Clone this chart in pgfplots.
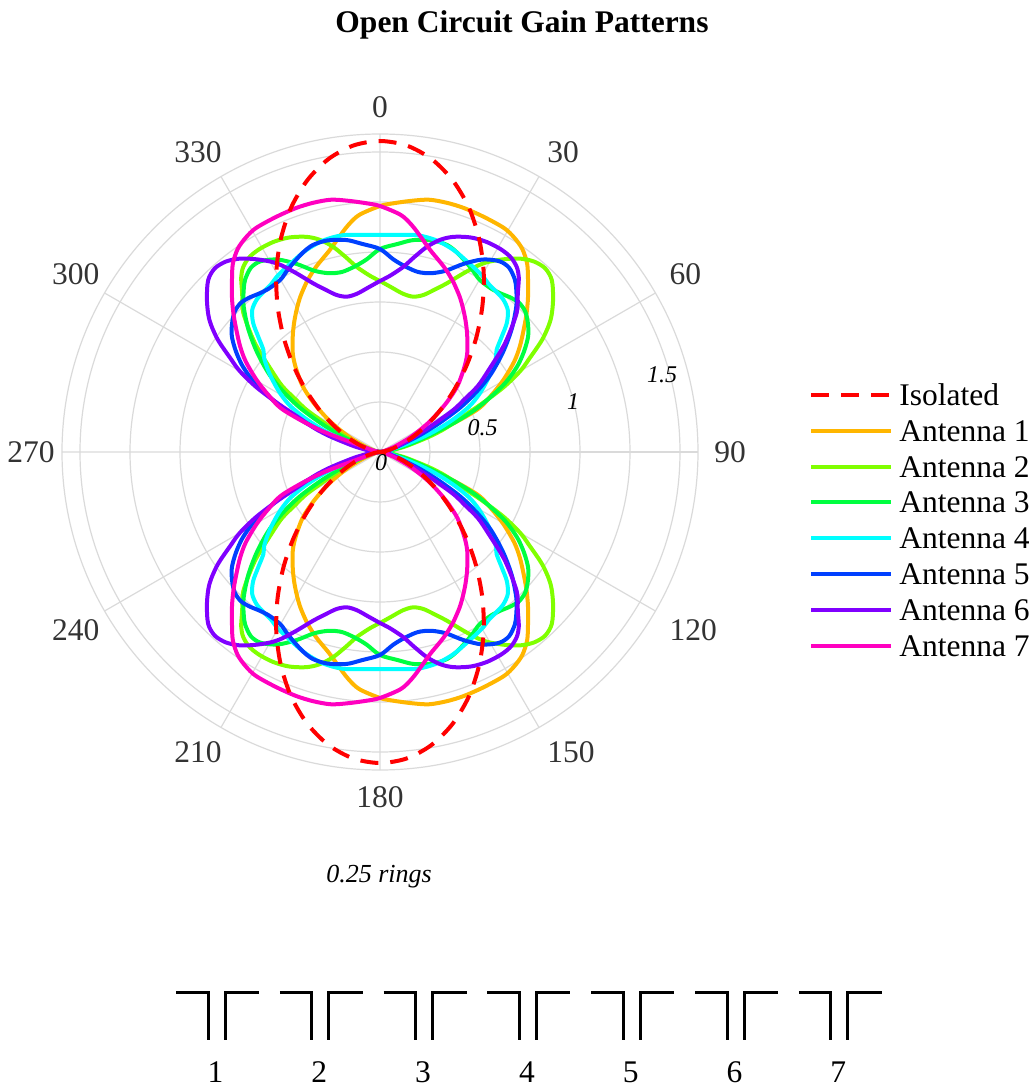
\documentclass[border=0pt]{standalone}
\usepackage{pgfplots}
\pgfplotsset{compat=1.18}
\usepgfplotslibrary{polar}
\usepackage{pgfplotstable}
\usepackage{fontspec}
\setmainfont{Liberation Serif}

\newlength{\px}
\setlength{\px}{0.5pt}

\definecolor{gridgray}{RGB}{218,218,218}
\definecolor{labelgray}{RGB}{51,51,51}
\definecolor{isored}{RGB}{255,0,0}
\definecolor{antA}{RGB}{255,182,0}
\definecolor{antB}{RGB}{128,255,0}
\definecolor{antC}{RGB}{0,255,64}
\definecolor{antD}{RGB}{0,255,255}
\definecolor{antE}{RGB}{0,64,255}
\definecolor{antF}{RGB}{128,0,255}
\definecolor{antG}{RGB}{255,0,192}

\newcommand{\bigfont}{\fontsize{15.75pt}{18pt}\selectfont}
\newcommand{\smallfont}{\fontsize{12pt}{14pt}\selectfont}

% Gain patterns: a = polar angle in degrees, counter-clockwise from the
% 90 spoke (so a = 90 is the 0 direction), r = linear gain.
\pgfplotstableread{
a r
0 0
5 0.007
10 0.029
15 0.066
20 0.119
25 0.187
30 0.271
35 0.372
40 0.485
45 0.613
50 0.750
55 0.893
60 1.037
65 1.174
70 1.300
75 1.406
80 1.487
85 1.538
90 1.555
95 1.538
100 1.487
105 1.406
110 1.300
115 1.174
120 1.037
125 0.893
130 0.750
135 0.613
140 0.485
145 0.372
150 0.271
155 0.187
160 0.119
165 0.066
170 0.029
175 0.007
180 0
185 0.007
190 0.029
195 0.066
200 0.119
205 0.187
210 0.271
215 0.372
220 0.485
225 0.613
230 0.750
235 0.893
240 1.037
245 1.174
250 1.300
255 1.406
260 1.487
265 1.538
270 1.555
275 1.538
280 1.487
285 1.406
290 1.300
295 1.174
300 1.037
305 0.893
310 0.750
315 0.613
320 0.485
325 0.372
330 0.271
335 0.187
340 0.119
345 0.066
350 0.029
355 0.007
360 0
}\isolated

\pgfplotstableread{
a r
0 0
10 0.02
15 0.05
17.6 0.088
20.1 0.32
23.5 0.527
27 0.625
30.3 0.715
34 0.81
37 0.875
40 0.935
43 1.0
46 1.065
49.3 1.135
52 1.195
55 1.24
58 1.265
61 1.28
66 1.285
71 1.29
75 1.29
79 1.285
83 1.265
87 1.245
90 1.23
95 1.19
98 1.145
101 1.09
104 1.04
109 0.98
113 0.93
117 0.875
120 0.83
123 0.785
126 0.74
129 0.695
132 0.65
135 0.595
139.5 0.51
143 0.425
146 0.35
149 0.28
152 0.21
155 0.15
160 0.075
165 0.03
170 0.01
180 0
190 0.01
195 0.03
200 0.075
205 0.15
208 0.21
211 0.28
214 0.35
217 0.425
220.5 0.51
225 0.595
228 0.65
231 0.695
234 0.74
237 0.785
240 0.83
243 0.875
247 0.93
251 0.98
256 1.04
259 1.09
262 1.145
265 1.19
270 1.23
273 1.245
277 1.265
281 1.285
285 1.29
289 1.29
294 1.285
299 1.28
302 1.265
305 1.24
308 1.195
310.7 1.135
314 1.065
317 1.0
320 0.935
323 0.875
326 0.81
329.7 0.715
333 0.625
336.5 0.527
339.9 0.32
342.4 0.088
345 0.05
350 0.02
360 0
}\antennaA

\pgfplotstableread{
a r
0 0
5 0.03
9 0.07
13 0.14
17.3 0.26
20 0.35
23.2 0.45
25.5 0.57
27.7 0.70
30 0.81
32 0.88
34.8 0.99
37.8 1.08
41.3 1.152
45 1.215
48 1.235
51 1.225
54 1.195
57 1.15
60 1.10
62.2 1.055
65 0.985
68.4 0.907
71.5 0.855
74.6 0.814
78 0.794
81.8 0.80
86 0.825
90 0.855
93 0.88
97 0.93
100 0.99
103 1.055
106 1.105
109 1.138
113 1.165
117 1.178
121 1.18
124 1.172
126.5 1.15
128.5 1.115
131 1.05
134.5 0.975
139 0.828
143 0.68
146 0.59
148 0.50
150 0.43
152 0.33
154 0.25
157 0.17
160 0.115
163 0.08
167 0.04
172 0.015
180 0
188 0.015
193 0.04
197 0.08
200 0.115
203 0.17
206 0.25
208 0.33
210 0.43
212 0.50
214 0.59
217 0.68
221 0.828
225.5 0.975
229 1.05
231.5 1.115
233.5 1.15
236 1.172
239 1.18
243 1.178
247 1.165
251 1.138
254 1.105
257 1.055
260 0.99
263 0.93
267 0.88
270 0.855
274 0.825
278.2 0.80
282 0.794
285.4 0.814
288.5 0.855
291.6 0.907
295 0.985
297.8 1.055
300 1.10
303 1.15
306 1.195
309 1.225
312 1.235
315 1.215
318.7 1.152
322.2 1.08
325.2 0.99
328 0.88
330 0.81
332.3 0.70
334.5 0.57
336.8 0.45
340 0.35
342.7 0.26
347 0.14
351 0.07
355 0.03
360 0
}\antennaB

\pgfplotstableread{
a r
0 0
6 0.03
11 0.08
15 0.16
18.5 0.26
21.5 0.40
24 0.52
26.5 0.62
29 0.72
32 0.81
35 0.88
38 0.94
41 0.98
44 1.01
47 1.02
50 1.01
53 0.995
56 0.988
60 0.995
63 1.02
66 1.045
69 1.07
72 1.088
76 1.09
81 1.073
85 1.045
90 1.015
94 0.965
98 0.935
102 0.92
106 0.93
110 0.965
114 1.03
118 1.09
122 1.125
125 1.125
128 1.095
130 1.06
133 1.0
137 0.9
141 0.79
145 0.675
148 0.57
151 0.46
154 0.33
157 0.22
160 0.13
164 0.07
170 0.025
180 0
190 0.025
196 0.07
200 0.13
203 0.22
206 0.33
209 0.46
212 0.57
215 0.675
219 0.79
223 0.9
227 1.0
230 1.06
232 1.095
235 1.125
238 1.125
242 1.09
246 1.03
250 0.965
254 0.93
258 0.92
262 0.935
266 0.965
270 1.015
275 1.045
279 1.073
284 1.09
288 1.088
291 1.07
294 1.045
297 1.02
300 0.995
304 0.988
307 0.995
310 1.01
313 1.02
316 1.01
319 0.98
322 0.94
325 0.88
328 0.81
331 0.72
333.5 0.62
336 0.52
338.5 0.40
341.5 0.26
345 0.16
349 0.08
354 0.03
360 0
}\antennaC

\pgfplotstableread{
a r
0 0
8 0.02
13 0.06
17 0.15
20.5 0.28
24 0.40
27 0.50
30 0.57
33 0.63
36 0.69
39 0.745
41.2 0.775
43.5 0.84
45.5 0.905
48 0.955
51 0.98
54 0.99
57 1.0
60 1.02
65 1.045
70 1.075
75 1.095
80 1.10
85 1.09
90 1.085
95 1.09
100 1.10
105 1.095
110 1.075
115 1.045
120 1.02
123 1.0
126 0.99
129 0.98
132 0.955
134.5 0.905
136.5 0.84
138.8 0.775
141 0.745
144 0.69
147 0.63
150 0.57
153 0.50
156 0.40
159.5 0.28
163 0.15
167 0.06
172 0.02
180 0
188 0.02
193 0.06
197 0.15
200.5 0.28
204 0.40
207 0.50
210 0.57
213 0.63
216 0.69
219 0.745
221.2 0.775
223.5 0.84
225.5 0.905
228 0.955
231 0.98
234 0.99
237 1.0
240 1.02
245 1.045
250 1.075
255 1.095
260 1.10
265 1.09
270 1.085
275 1.09
280 1.10
285 1.095
290 1.075
295 1.045
300 1.02
303 1.0
306 0.99
309 0.98
312 0.955
314.5 0.905
316.5 0.84
318.8 0.775
321 0.745
324 0.69
327 0.63
330 0.57
333 0.50
336 0.40
339.5 0.28
343 0.15
347 0.06
352 0.02
360 0
}\antennaD

\pgfplotstableread{
a r
0 0
10 0.025
16 0.07
20 0.13
23 0.22
26 0.33
29 0.46
32 0.57
35 0.675
39 0.79
43 0.9
47 1.0
50 1.06
52 1.095
55 1.125
58 1.125
62 1.09
66 1.03
70 0.965
74 0.93
78 0.92
82 0.935
86 0.965
90 1.015
95 1.045
99 1.073
104 1.09
108 1.088
111 1.07
114 1.045
117 1.02
120 0.995
124 0.988
127 0.995
130 1.01
133 1.02
136 1.01
139 0.98
142 0.94
145 0.88
148 0.81
151 0.72
153.5 0.62
156 0.52
158.5 0.40
161.5 0.26
165 0.16
169 0.08
174 0.03
180 0
186 0.03
191 0.08
195 0.16
198.5 0.26
201.5 0.40
204 0.52
206.5 0.62
209 0.72
212 0.81
215 0.88
218 0.94
221 0.98
224 1.01
227 1.02
230 1.01
233 0.995
236 0.988
240 0.995
243 1.02
246 1.045
249 1.07
252 1.088
256 1.09
261 1.073
265 1.045
270 1.015
274 0.965
278 0.935
282 0.92
286 0.93
290 0.965
294 1.03
298 1.09
302 1.125
305 1.125
308 1.095
310 1.06
313 1.0
317 0.9
321 0.79
325 0.675
328 0.57
331 0.46
334 0.33
337 0.22
340 0.13
344 0.07
350 0.025
360 0
}\antennaE

\pgfplotstableread{
a r
0 0
8 0.015
13 0.04
17 0.08
20 0.115
23 0.17
26 0.25
28 0.33
30 0.43
32 0.50
34 0.59
37 0.68
41 0.828
45.5 0.975
49 1.05
51.5 1.115
53.5 1.15
56 1.172
59 1.18
63 1.178
67 1.165
71 1.138
74 1.105
77 1.055
80 0.99
83 0.93
87 0.88
90 0.855
94 0.825
98.2 0.80
102 0.794
105.4 0.814
108.5 0.855
111.6 0.907
115 0.985
117.8 1.055
120 1.10
123 1.15
126 1.195
129 1.225
132 1.235
135 1.215
138.7 1.152
142.2 1.08
145.2 0.99
148 0.88
150 0.81
152.3 0.70
154.5 0.57
156.8 0.45
160 0.35
162.7 0.26
167 0.14
171 0.07
175 0.03
180 0
185 0.03
189 0.07
193 0.14
197.3 0.26
200 0.35
203.2 0.45
205.5 0.57
207.7 0.70
210 0.81
212 0.88
214.8 0.99
217.8 1.08
221.3 1.152
225 1.215
228 1.235
231 1.225
234 1.195
237 1.15
240 1.10
242.2 1.055
245 0.985
248.4 0.907
251.5 0.855
254.6 0.814
258 0.794
261.8 0.80
266 0.825
270 0.855
273 0.88
277 0.93
280 0.99
283 1.055
286 1.105
289 1.138
293 1.165
297 1.178
301 1.18
304 1.172
306.5 1.15
308.5 1.115
311 1.05
314.5 0.975
319 0.828
323 0.68
326 0.59
328 0.50
330 0.43
332 0.33
334 0.25
337 0.17
340 0.115
343 0.08
347 0.04
352 0.015
360 0
}\antennaF

\pgfplotstableread{
a r
0 0
10 0.01
15 0.03
20 0.075
25 0.15
28 0.21
31 0.28
34 0.35
37 0.425
40.5 0.51
45 0.595
48 0.65
51 0.695
54 0.74
57 0.785
60 0.83
63 0.875
67 0.93
71 0.98
76 1.04
79 1.09
82 1.145
85 1.19
90 1.23
93 1.245
97 1.265
101 1.285
105 1.29
109 1.29
114 1.285
119 1.28
122 1.265
125 1.24
128 1.195
130.7 1.135
134 1.065
137 1.0
140 0.935
143 0.875
146 0.81
149.7 0.715
153 0.625
156.5 0.527
159.9 0.32
162.4 0.088
165 0.05
170 0.02
180 0
190 0.02
195 0.05
197.6 0.088
200.1 0.32
203.5 0.527
207 0.625
210.3 0.715
214 0.81
217 0.875
220 0.935
223 1.0
226 1.065
229.3 1.135
232 1.195
235 1.24
238 1.265
241 1.28
246 1.285
251 1.29
255 1.29
259 1.285
263 1.265
267 1.245
270 1.23
275 1.19
278 1.145
281 1.09
284 1.04
289 0.98
293 0.93
297 0.875
300 0.83
303 0.785
306 0.74
309 0.695
312 0.65
315 0.595
319.5 0.51
323 0.425
326 0.35
329 0.28
332 0.21
335 0.15
340 0.075
345 0.03
350 0.01
360 0
}\antennaG

\begin{document}
\begin{tikzpicture}
\path[use as bounding box] (0,0) rectangle (1034\px,1089\px);

% title
\node[font=\bigfont\bfseries, anchor=base] at (522\px,1056\px) {Open Circuit Gain Patterns};

\begin{polaraxis}[
  at={(380\px,637\px)}, anchor=center,
  scale only axis, width=636\px, height=636\px,
  ymin=0, ymax=1.59,
  xtick={0,30,...,330}, xticklabels={},
  ytick={0.25,0.5,...,1.5}, yticklabels={},
  grid=major,
  major grid style={draw=gridgray, line width=0.6pt},
  axis line style={draw=gridgray, line width=0.6pt},
  major tick length=0pt,
  clip=false,
  legend cell align=left,
  legend style={at={(1.1745,0.6132)}, anchor=north west,
    draw=none, fill=none, inner sep=0pt,
    row sep=3.4pt, column sep=3pt, font=\bigfont,
    nodes={inner sep=0pt, text height=12.5pt, text depth=2pt}},
  legend image code/.code={\draw[#1] (0pt,0pt) -- (40pt,0pt);},
  every axis plot/.append style={line width=2pt, smooth},
]
\addlegendimage{isored, line width=2pt, dash pattern=on 9pt off 6pt}
\addlegendentry{Isolated}
\addplot[antA] table[x=a, y=r] {\antennaA};
\addlegendentry{Antenna 1}
\addplot[antB] table[x=a, y=r] {\antennaB};
\addlegendentry{Antenna 2}
\addplot[antC] table[x=a, y=r] {\antennaC};
\addlegendentry{Antenna 3}
\addplot[antD] table[x=a, y=r] {\antennaD};
\addlegendentry{Antenna 4}
\addplot[antE] table[x=a, y=r] {\antennaE};
\addlegendentry{Antenna 5}
\addplot[antF] table[x=a, y=r] {\antennaF};
\addlegendentry{Antenna 6}
\addplot[antG] table[x=a, y=r] {\antennaG};
\addlegendentry{Antenna 7}
\addplot[isored, dash pattern=on 9pt off 6pt, forget plot] table[x=a, y=r] {\isolated};
\end{polaraxis}

% compass angle labels, anchored just outside the outer ring
\begin{scope}[every node/.style={font=\bigfont, text=labelgray, inner sep=0pt}]
  \path (380\px,637\px) ++(90:334\px) node[anchor=south] {0};
  \path (380\px,637\px) ++(60:334\px) node[anchor=south west] {30};
  \path (380\px,637\px) ++(30:334\px) node[anchor=south west] {60};
  \path (380\px,637\px) ++(0:334\px) node[anchor=west] {90};
  \path (380\px,637\px) ++(-30:334\px) node[anchor=north west] {120};
  \path (380\px,637\px) ++(-60:334\px) node[anchor=north west] {150};
  \path (380\px,637\px) ++(-90:334\px) node[anchor=north] {180};
  \path (380\px,637\px) ++(-120:334\px) ++(9\px,0) node[anchor=north east] {210};
  \path (380\px,637\px) ++(-150:334\px) ++(9\px,0) node[anchor=north east] {240};
  \path (380\px,637\px) ++(180:334\px) ++(9\px,0) node[anchor=east] {270};
  \path (380\px,637\px) ++(150:334\px) ++(9\px,0) node[anchor=south east] {300};
  \path (380\px,637\px) ++(120:334\px) ++(9\px,0) node[anchor=south east] {330};
\end{scope}

% radial ring labels
\begin{scope}[every node/.style={font=\smallfont\itshape, text=black}]
  \node at (381\px,626\px) {0};
  \node at (482.5\px,661.5\px) {0.5};
  \node at (573\px,687\px) {1};
  \node at (662\px,714\px) {1.5};
  \node[font=\fontsize{13pt}{15pt}\selectfont\itshape] at (379\px,212\px) {0.25 rings};
\end{scope}

% array layout: seven dipoles side by side
\foreach \k in {1,...,7} {
  \pgfmathsetmacro{\cx}{216.5+103.8*(\k-1)}
  \draw[black, line width=1.5pt]
    (\cx\px-40.5\px,96\px) -- (\cx\px-8.5\px,96\px) -- (\cx\px-8.5\px,49\px);
  \draw[black, line width=1.5pt]
    (\cx\px+8.5\px,49\px) -- (\cx\px+8.5\px,96\px) -- (\cx\px+42.5\px,96\px);
  \node[font=\bigfont, anchor=base] at (\cx\px-1\px,6\px) {\k};
}
\end{tikzpicture}
\end{document}
